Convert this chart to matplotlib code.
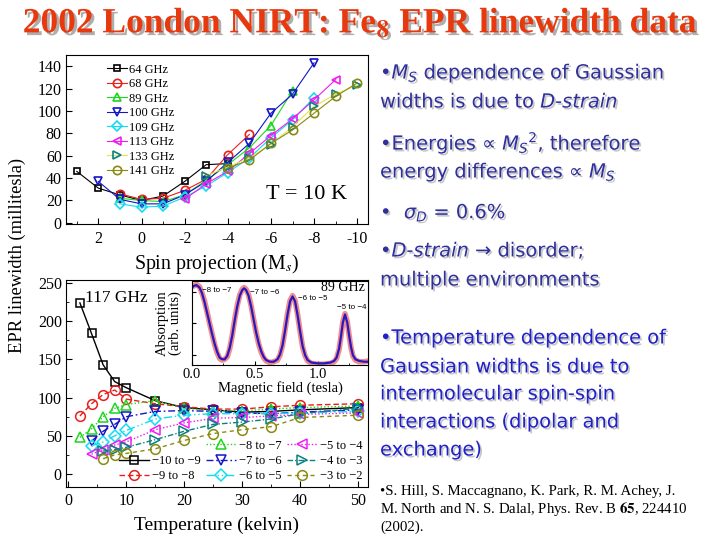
import matplotlib
matplotlib.use('Agg')
import matplotlib.pyplot as plt
import matplotlib.patheffects as pe
from matplotlib.ticker import MultipleLocator
from matplotlib.lines import Line2D

plt.rcParams['font.family'] = 'serif'
plt.rcParams['font.serif'] = ['Liberation Serif', 'DejaVu Serif']
plt.rcParams['mathtext.fontset'] = 'stix'

#
# top panel: linewidth vs M_s at 10 K
#
freq_labels = ['64 GHz', '68 GHz', '89 GHz', '100 GHz', '109 GHz', '113 GHz', '133 GHz', '141 GHz']
ms_64 = [3, 2, 1, 0, -1, -2, -3, -4]
w_64 = [46, 31, 25, 20, 24, 37, 52, 53]
ms_68 = [1, 0, -1, -2, -3, -4, -5]
w_68 = [26, 21, 22, 29, 39, 61, 79]
ms_89 = [1, 0, -1, -2, -3, -4, -5, -6, -7]
w_89 = [22, 20, 19, 25, 38, 52, 67, 87, 118]
ms_100 = [2, 1, 0, -1, -2, -3, -4, -5, -6, -7, -8]
w_100 = [37, 21, 17, 17, 25, 37, 54, 71, 98, 115, 143]
ms_109 = [1, 0, -1, -2, -3, -4, -5, -6, -7, -8]
w_109 = [17, 14, 15, 23, 33, 45, 58, 76, 92, 112]
ms_113 = [-2, -3, -4, -5, -6, -7, -8, -9]
w_113 = [21, 35, 46, 62, 78, 93, 110, 128]
ms_133 = [-3, -4, -5, -6, -7, -8, -9, -10]
w_133 = [42, 50, 58, 70, 86, 104, 115, 123]
ms_141 = [-4, -5, -6, -7, -8, -9, -10]
w_141 = [49, 56, 71, 83, 98, 113, 125]

#
# bottom panel: linewidth vs temperature at 117 GHz
#
trans_labels = ['\u221210 to \u22129', '\u22129 to \u22128', '\u22128 to \u22127', '\u22127 to \u22126',
                '\u22126 to \u22125', '\u22125 to \u22124', '\u22124 to \u22123', '\u22123 to \u22122']
temp_all = [2, 4, 6, 8, 10, 15, 20, 25, 30, 35, 40, 50]
temp_from4 = [4, 6, 8, 10, 15, 20, 25, 30, 35, 40, 50]
temp_from6 = [6, 8, 10, 15, 20, 25, 30, 35, 40, 50]
w_10_9 = [224, 184, 143, 121, 113, 96, 87, 84, 81, 82, 84, 87]
w_9_8 = [76, 92, 104, 110, 98, 92, 88, 85, 85, 88, 90, 92]
w_8_7 = [48, 59, 75, 86, 91, 96, 86, 83, 83, 85, 87, 89]
w_7_6 = [43, 56, 65, 75, 82, 83, 82, 80, 79, 81, 84]
w_6_5 = [37, 42, 50, 57, 72, 77, 79, 79, 79, 80, 82]
w_5_4 = [26, 32, 38, 42, 58, 67, 73, 74, 76, 78, 80]
w_4_3 = [30, 32, 35, 45, 56, 65, 68, 72, 79, 86]
w_3_2 = [20, 25, 27, 33, 44, 53, 58, 62, 74, 77]

#
# inset: 89 GHz spectrum
#
field = [0.0, 0.015, 0.035, 0.06, 0.08, 0.10, 0.12, 0.14, 0.16, 0.18, 0.20, 0.22, 0.24, 0.26,
         0.28, 0.30, 0.32, 0.34, 0.36, 0.38, 0.40, 0.415, 0.43, 0.45, 0.47, 0.49, 0.51, 0.53,
         0.55, 0.57, 0.59, 0.62, 0.65, 0.68, 0.70, 0.72, 0.74, 0.76, 0.78, 0.80, 0.82, 0.84,
         0.86, 0.88, 0.90, 0.92, 0.95, 1.00, 1.05, 1.10, 1.13, 1.15, 1.17, 1.185, 1.20, 1.217,
         1.235, 1.25, 1.265, 1.28, 1.30, 1.33, 1.37, 1.41]
abs_fit = [0.95, 0.97, 0.98, 0.95, 0.88, 0.77, 0.64, 0.51, 0.38, 0.26, 0.16, 0.09, 0.07, 0.07,
           0.11, 0.21, 0.36, 0.55, 0.72, 0.85, 0.92, 0.94, 0.92, 0.85, 0.72, 0.56, 0.40, 0.27,
           0.17, 0.10, 0.06, 0.04, 0.04, 0.07, 0.13, 0.24, 0.42, 0.62, 0.78, 0.84, 0.78, 0.61,
           0.41, 0.23, 0.12, 0.06, 0.03, 0.02, 0.02, 0.03, 0.05, 0.09, 0.20, 0.35, 0.52, 0.62,
           0.52, 0.36, 0.22, 0.12, 0.07, 0.05, 0.04, 0.04]
abs_data = [0.96, 0.97, 0.99, 0.96, 0.88, 0.78, 0.65, 0.51, 0.38, 0.25, 0.15, 0.08, 0.06, 0.07,
            0.10, 0.20, 0.36, 0.56, 0.73, 0.86, 0.93, 0.95, 0.93, 0.86, 0.73, 0.56, 0.40, 0.26,
            0.16, 0.09, 0.05, 0.03, 0.04, 0.06, 0.12, 0.24, 0.43, 0.63, 0.79, 0.85, 0.79, 0.62,
            0.41, 0.22, 0.11, 0.05, 0.02, 0.01, 0.01, 0.02, 0.04, 0.08, 0.19, 0.35, 0.53, 0.63,
            0.53, 0.36, 0.21, 0.11, 0.06, 0.04, 0.04, 0.05]
peak_labels = ['\u22128 to \u22127', '\u22127 to \u22126', '\u22126 to \u22125', '\u22125 to \u22124']
peak_label_field = [0.08, 0.46, 0.84, 1.15]
peak_label_abs = [0.91, 0.89, 0.81, 0.71]

colors = ['black', '#e8201c', '#1ed61e', '#1414c8', '#12dcf0', '#f01cf0', '#0a8080', '#8a8a10']
line_colors = ['black', '#e8201c', '#1ed61e', '#1414c8', '#12dcf0', '#f01cf0', '#e4e450', '#8a8a10']
markers = ['s', 'o', '^', 'v', 'D', '<', '>', 'o']
msizes = [5.0, 6.0, 6.0, 6.0, 5.0, 6.0, 6.0, 6.0]

fig = plt.figure(figsize=(7.2, 5.4), dpi=100)

# ---------------- top panel
ax1 = fig.add_axes([66/720, 1-224/540, 302/720, 169/540])
top_series = [(ms_64, w_64), (ms_68, w_68), (ms_89, w_89), (ms_100, w_100),
              (ms_109, w_109), (ms_113, w_113), (ms_133, w_133), (ms_141, w_141)]
for i, (m, w) in enumerate(top_series):
    ax1.plot(m, w, color=line_colors[i], lw=0.8, marker=markers[i], ms=msizes[i],
             mfc='none', mec=colors[i], mew=1.2, label=freq_labels[i])
ax1.set_xlim(3.5, -10.5)
ax1.set_ylim(-1, 150)
ax1.xaxis.set_minor_locator(MultipleLocator(1))
ax1.set_yticks([0, 20, 40, 60, 80, 100, 120, 140])
ax1.set_xticks([2, 0, -2, -4, -6, -8, -10], labels=['2', '0', '-2', '-4', '-6', '-8', '-10'])
ax1.tick_params(axis='both', which='both', direction='in', top=False, right=False, labelsize=11.5)
ax1.tick_params(axis='x', which='major', length=4, pad=5)
ax1.tick_params(axis='x', which='minor', length=2.5)
ax1.tick_params(axis='y', length=4, pad=3)
ax1.set_xlabel('Spin projection (M$_s$)', fontsize=14.3, labelpad=3.5)
ax1.legend(loc='upper left', bbox_to_anchor=(0.106, 1.0), frameon=False, fontsize=9,
           handlelength=1.6, labelspacing=0.2, handletextpad=0.2, borderaxespad=0.3)
ax1.text(0.93, 0.172, 'T = 10 K', transform=ax1.transAxes, fontsize=16, ha='right', va='center')

# ---------------- bottom panel
ax2 = fig.add_axes([66/720, 1-487/540, 302/720, 207/540])
styles = ['-', (0, (4, 2)), (0, (1, 1.5)), (0, (5, 2, 1.2, 2)),
          (0, (6, 2, 1, 2, 1, 2)), (0, (1, 1.5)), (0, (4, 1.5, 1, 1.5)), (0, (3, 2.5))]
bottom_series = [(temp_all, w_10_9), (temp_all, w_9_8), (temp_all, w_8_7), (temp_from4, w_7_6),
                 (temp_from4, w_6_5), (temp_from4, w_5_4), (temp_from6, w_4_3), (temp_from6, w_3_2)]
handles = []
for i, (t, w) in enumerate(bottom_series):
    h, = ax2.plot(t, w, color=colors[i], lw=1.0, ls=styles[i], marker=markers[i],
                  ms=msizes[i] + 1, mfc='none', mec=colors[i], mew=1.1, label=trans_labels[i])
    handles.append(h)
ax2.set_xlim(-0.4, 51.7)
ax2.set_ylim(-17, 254)
ax2.xaxis.set_major_locator(MultipleLocator(10))
ax2.xaxis.set_minor_locator(MultipleLocator(5))
ax2.yaxis.set_major_locator(MultipleLocator(50))
ax2.yaxis.set_minor_locator(MultipleLocator(25))
ax2.tick_params(axis='both', which='both', direction='in', top=False, right=False, labelsize=11.5)
ax2.tick_params(axis='both', which='major', length=4)
ax2.tick_params(axis='both', which='minor', length=2.5)
ax2.tick_params(axis='x', pad=4)
ax2.tick_params(axis='y', pad=3)
ax2.set_xlabel('Temperature (kelvin)', fontsize=14, labelpad=5.5)
ax2.text(0.063, 0.913, '117 GHz', transform=ax2.transAxes, fontsize=12.5, ha='left', va='center')
blank = Line2D([], [], lw=0, marker=None)
ax2.legend([blank] + handles, [''] + trans_labels, ncol=3, loc='lower right',
           bbox_to_anchor=(1.0, 0.0), frameon=False, fontsize=9, handlelength=2.4,
           labelspacing=0.25, handletextpad=0.25, columnspacing=0.45, borderaxespad=0.0)

# ---------------- inset
ax3 = fig.add_axes([192/720, 1-365/540, 176/720, 84/540])
ax3.plot(field, abs_data, color='#f07878', lw=4, alpha=0.85, solid_capstyle='round')
ax3.plot(field, abs_fit, color='#2818c0', lw=1.6)
ax3.set_xlim(0, 1.4)
ax3.set_ylim(0, 1.03)
ax3.set_xticks([0.0, 0.5, 1.0])
ax3.xaxis.set_minor_locator(MultipleLocator(0.25))
ax3.set_yticks([0.12, 0.51, 0.9])
ax3.set_yticklabels([])
ax3.tick_params(axis='both', which='both', direction='in', top=False, right=False, labelsize=10.5)
ax3.tick_params(axis='both', which='major', length=3, pad=2)
ax3.tick_params(axis='both', which='minor', length=1.5)
ax3.set_xlabel('Magnetic field (tesla)', fontsize=10.5, labelpad=0)
ax3.set_ylabel('Absorption\n(arb. units)', fontsize=10.5, labelpad=5, linespacing=1.0)
for lab, lx, ly in zip(peak_labels, peak_label_field, peak_label_abs):
    ax3.text(lx, ly, lab, fontsize=5.8, family='Liberation Sans', ha='left', va='center')
ax3.text(0.985, 0.92, '89 GHz', transform=ax3.transAxes, fontsize=10, ha='right', va='center')

# ---------------- shared y label and title
fig.text(17/720, 1-255/540, 'EPR linewidth (millitesla)', rotation=90, fontsize=13.3,
         ha='center', va='center')

shadow_title = [pe.withSimplePatchShadow(offset=(2, -2), shadow_rgbFace='#8c8c8c', alpha=0.7)]
fig.text(0.5, 1-24/540, r'2002 London NIRT: Fe$_\mathbf{8}$ EPR linewidth data', fontsize=25.5,
         fontweight='bold', color='#e8380d', ha='center', va='center', math_fontfamily='stix',
         path_effects=shadow_title)

# ---------------- right column text
shadow = [pe.withSimplePatchShadow(offset=(1.3, -1.3), shadow_rgbFace='#a0a0a0', alpha=0.6)]
top_lines = [
    (73, '\u2022$M_S$ dependence of Gaussian'),
    (102, 'widths is due to $D$-$strain$'),
    (143, '\u2022Energies \u221d $M_S{}^2$, therefore'),
    (172, 'energy differences \u221d $M_S$'),
    (213, '\u2022  $\\sigma_D$ = 0.6%'),
    (250, '\u2022$D$-$strain$ \u2192 disorder;'),
    (280, 'multiple environments'),
]
for y, s in top_lines:
    fig.text(380/720, 1-y/540, s, fontsize=14, family='DejaVu Sans', color='#30309c',
             ha='left', va='center', math_fontfamily='dejavusans', path_effects=shadow)

bottom_lines = [
    (338, '\u2022Temperature dependence of'),
    (367, 'Gaussian widths is due to'),
    (394, 'intermolecular spin-spin'),
    (422, 'interactions (dipolar and'),
    (450, 'exchange)'),
]
for y, s in bottom_lines:
    fig.text(380/720, 1-y/540, s, fontsize=14, family='DejaVu Sans', color='#2020c8',
             ha='left', va='center', path_effects=shadow)

cite_lines = [
    (492, '\u2022S. Hill, S. Maccagnano, K. Park, R. M. Achey, J.'),
    (509, r'M. North and N. S. Dalal, Phys. Rev. B $\mathbf{65}$, 224410'),
    (527, '(2002).'),
]
for y, s in cite_lines:
    fig.text(380/720, 1-y/540, s, fontsize=10.7, color='black', ha='left', va='center',
             math_fontfamily='stix')

plt.savefig('out.png', dpi=100)
